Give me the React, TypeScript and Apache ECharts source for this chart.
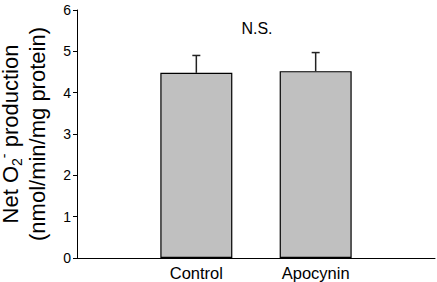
import React, { useEffect, useRef } from "react";
import * as echarts from "echarts";

const categories = ["", "Control", "Apocynin", ""];
const means = [4.48, 4.52];
const errors = [0.42, 0.45];
const yTicks = { min: 0, max: 6, interval: 1 };
const annotation = "N.S.";

export default function App() {
  const ref = useRef<HTMLDivElement>(null);
  useEffect(() => {
    const chart = echarts.init(ref.current!, undefined, { renderer: "svg" });
    const font = "'Liberation Sans', Arial, sans-serif";
    const barData = [null, means[0], means[1], null];
    const errData = means.map((m, i) => [i + 1, m, errors[i]]);
    chart.setOption({
      animation: false,
      grid: { left: 77, right: 2, top: 10, bottom: 24, containLabel: false, outerBoundsMode: "none" },
      xAxis: {
        type: "category",
        data: categories,
        boundaryGap: false,
        axisLine: { lineStyle: { color: "#000", width: 1 } },
        axisTick: { show: false },
        axisLabel: { color: "#000", fontSize: 16.5, fontFamily: font, margin: 6 },
      },
      yAxis: {
        type: "value",
        min: yTicks.min,
        max: yTicks.max,
        interval: yTicks.interval,
        splitLine: { show: false },
        axisLine: { show: true, lineStyle: { color: "#000", width: 1 } },
        axisTick: { show: true, length: 4, lineStyle: { color: "#000" } },
        axisLabel: { color: "#000", fontSize: 14, fontFamily: font, margin: 6 },
        name: "{a|Net O}{sub|2}{sup|-}{a| production}\n{a|(nmol/min/mg protein)}",
        nameLocation: "middle",
        nameRotate: 90,
        nameGap: 26,
        nameTextStyle: {
          color: "#000",
          fontFamily: font,
          lineHeight: 27,
          rich: {
            a: { fontSize: 22, fontFamily: font, color: "#000", lineHeight: 27 },
            sub: { fontSize: 14, fontFamily: font, color: "#000", verticalAlign: "bottom", lineHeight: 27, padding: [6, 0, 0, 0] },
            sup: { fontSize: 14, fontFamily: font, color: "#000", verticalAlign: "top", lineHeight: 27, padding: [0, 0, 6, 0] },
          },
        },
      },
      series: [
        {
          type: "bar",
          data: barData,
          barWidth: 72,
          itemStyle: { color: "#c0c0c0", borderColor: "#000", borderWidth: 1.2 },
          z: 2,
        },
        {
          type: "custom",
          data: errData,
          z: 1,
          renderItem: (params: any, api: any) => {
            const x = api.value(0);
            const m = api.value(1);
            const e = api.value(2);
            const p0 = api.coord([x, m]);
            const p1 = api.coord([x, m + e]);
            return {
              type: "group",
              children: [
                { type: "line", shape: { x1: p0[0], y1: p0[1], x2: p1[0], y2: p1[1] }, style: { stroke: "#222", lineWidth: 1.5 } },
                { type: "line", shape: { x1: p1[0] - 4, y1: p1[1], x2: p1[0] + 4, y2: p1[1] }, style: { stroke: "#222", lineWidth: 1.5 } },
              ],
            };
          },
        },
      ],
      graphic: [
        {
          type: "text",
          x: 257,
          y: 20,
          style: { text: annotation, fill: "#000", fontSize: 16, fontFamily: font, textAlign: "center", textVerticalAlign: "top" },
        },
      ],
    });
    return () => chart.dispose();
  }, []);
  return <div ref={ref} style={{ width: 437, height: 282, position: "absolute", left: 0, top: 0 }} />;
}
